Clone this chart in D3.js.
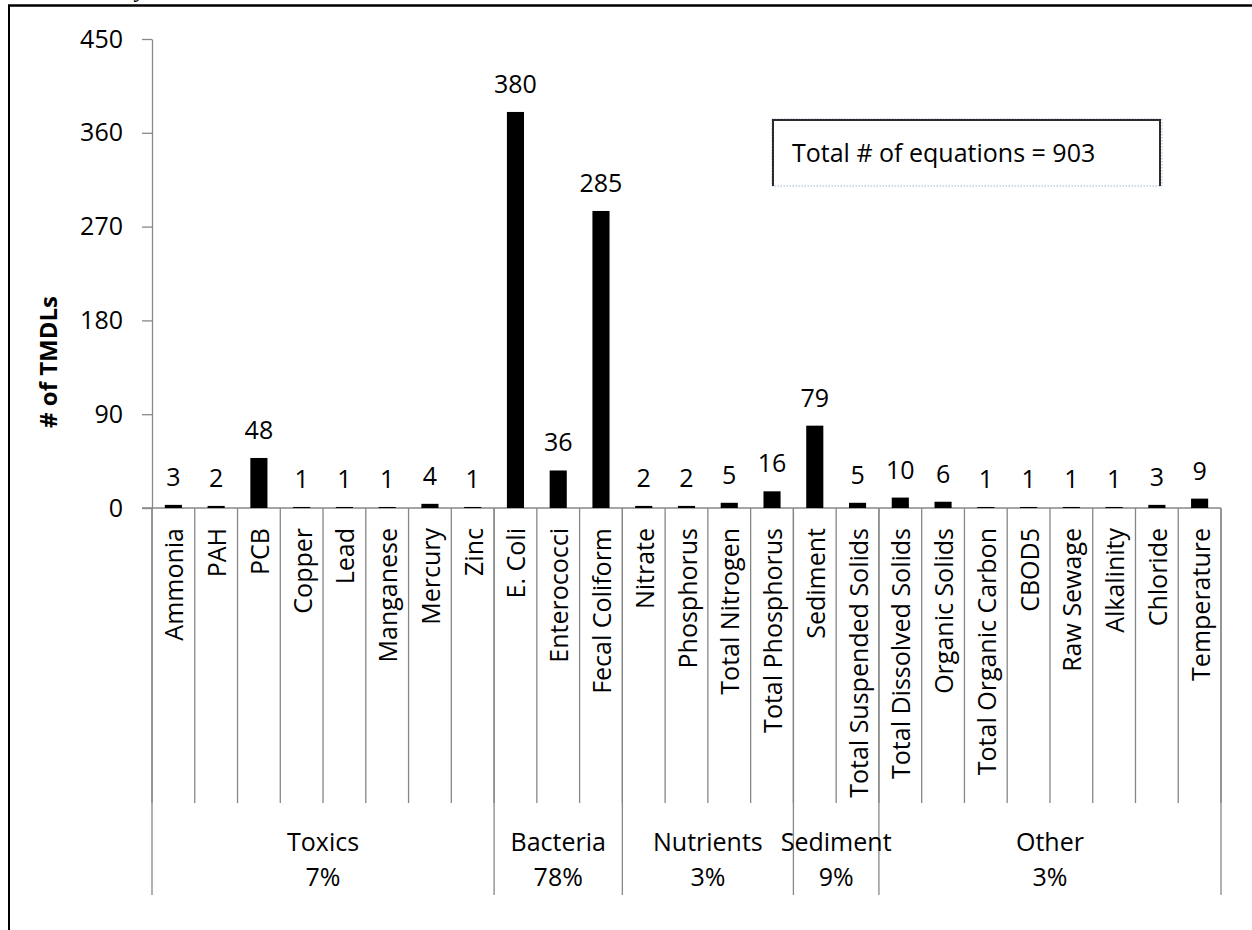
<!DOCTYPE html>
<html>
<head>
<meta charset="utf-8">
<script src="https://cdn.jsdelivr.net/npm/d3@7"></script>
<style>
  html, body { margin: 0; padding: 0; background: #fff; }
  svg { display: block; }
  text { font-family: "Open Sans", "Noto Sans", sans-serif; fill: #000; }
</style>
</head>
<body>
<svg id="chart" width="1252" height="930"></svg>
<script>
// TMDL counts by pollutant
const categories = [
  "Ammonia", "PAH", "PCB", "Copper", "Lead", "Manganese", "Mercury", "Zinc",
  "E. Coli", "Enterococci", "Fecal Coliform",
  "Nitrate", "Phosphorus", "Total Nitrogen", "Total Phosphorus",
  "Sediment", "Total Suspended Solids",
  "Total Dissolved Solids", "Organic Solids", "Total Organic Carbon", "CBOD5",
  "Raw Sewage", "Alkalinity", "Chloride", "Temperature"
];
const values = [3, 2, 48, 1, 1, 1, 4, 1, 380, 36, 285, 2, 2, 5, 16, 79, 5, 10, 6, 1, 1, 1, 1, 3, 9];

// Pollutant groups (in category order) and their share of all equations
const groupNames  = ["Toxics", "Bacteria", "Nutrients", "Sediment", "Other"];
const groupSizes  = [8, 3, 4, 2, 8];
const groupShares = ["7%", "78%", "3%", "9%", "3%"];

const yTicks = [0, 90, 180, 270, 360, 450];
const totalNote = "Total # of equations = 903";

const svg = d3.select("#chart");
const axisColor = "#878787";

const plot = { left: 152, right: 1221, top: 39, bottom: 508 };
const catLineEnd = 803;
const groupLineEnd = 895;

const x = d3.scaleBand()
  .domain(categories)
  .range([plot.left, plot.right])
  .padding(0);

const y = d3.scaleLinear()
  .domain([0, 450])
  .range([plot.bottom, plot.top]);

// Outer frame (left and top edges)
svg.append("line")
  .attr("x1", 9).attr("x2", 9).attr("y1", 5).attr("y2", 930)
  .attr("stroke", "#000").attr("stroke-width", 2);
svg.append("line")
  .attr("x1", 8).attr("x2", 1252).attr("y1", 5.5).attr("y2", 5.5)
  .attr("stroke", "#000").attr("stroke-width", 2.5);
// caption text above the frame, clipped by the page edge
svg.append("text")
  .attr("x", 136).attr("y", -3)
  .style("font-family", "'Liberation Serif', serif")
  .style("font-weight", "bold").style("font-style", "italic")
  .style("font-size", "22px")
  .text("y");

// Y axis
const yAxis = d3.axisLeft(y).tickValues(yTicks).tickSize(10).tickPadding(19).tickSizeOuter(0);
const gy = svg.append("g")
  .attr("transform", `translate(${plot.left},0)`)
  .call(yAxis);
gy.select(".domain").attr("stroke", axisColor).attr("stroke-width", 1.3);
gy.selectAll(".tick line").attr("stroke", axisColor).attr("stroke-width", 1.3);
gy.selectAll(".tick text")
  .style("font-family", "'Open Sans', sans-serif")
  .style("font-size", "25px").attr("fill", "#000");

// Y axis title
svg.append("text")
  .attr("transform", "translate(47,362) rotate(-90)")
  .attr("text-anchor", "middle")
  .attr("dominant-baseline", "central")
  .style("font-weight", "bold")
  .style("font-size", "24px")
  .text("# of TMDLs");

// Baseline
svg.append("line")
  .attr("x1", plot.left - 10).attr("x2", plot.right)
  .attr("y1", plot.bottom).attr("y2", plot.bottom)
  .attr("stroke", axisColor).attr("stroke-width", 1.3);

// Category separators
const bounds = categories.map(c => x(c)).concat([plot.right]);
svg.append("g").selectAll("line")
  .data(bounds)
  .join("line")
  .attr("x1", d => d).attr("x2", d => d)
  .attr("y1", plot.bottom).attr("y2", catLineEnd)
  .attr("stroke", axisColor).attr("stroke-width", 1.3);

// Group separators and labels
let start = 0;
const groups = groupNames.map((name, i) => {
  const g = { name, share: groupShares[i], first: start, last: start + groupSizes[i] - 1 };
  start += groupSizes[i];
  return g;
});
const groupBounds = [plot.left].concat(groups.map(g => x(categories[g.last]) + x.bandwidth()));
svg.append("g").selectAll("line")
  .data(groupBounds)
  .join("line")
  .attr("x1", d => d).attr("x2", d => d)
  .attr("y1", plot.bottom).attr("y2", groupLineEnd)
  .attr("stroke", axisColor).attr("stroke-width", 1.3);

const gl = svg.append("g").selectAll("g")
  .data(groups)
  .join("g")
  .attr("transform", g => {
    const cx = (x(categories[g.first]) + x(categories[g.last]) + x.bandwidth()) / 2;
    return `translate(${cx},0)`;
  });
gl.append("text").attr("y", 851).attr("text-anchor", "middle")
  .style("font-size", "25px").text(g => g.name);
gl.append("text").attr("y", 886).attr("text-anchor", "middle")
  .style("font-size", "25px").text(g => g.share);

// Category labels (rotated)
svg.append("g").selectAll("text")
  .data(categories)
  .join("text")
  .attr("transform", c => `translate(${x(c) + x.bandwidth() / 2},528) rotate(-90)`)
  .attr("text-anchor", "end")
  .attr("dominant-baseline", "central")
  .style("font-size", "25px")
  .text(c => c);

// Bars
const barW = x.bandwidth() * 0.4;
const data = categories.map((c, i) => ({ c, v: values[i] }));
svg.append("g").selectAll("rect")
  .data(data)
  .join("rect")
  .attr("x", d => x(d.c) + (x.bandwidth() - barW) / 2)
  .attr("width", barW)
  .attr("y", d => y(d.v))
  .attr("height", d => y(0) - y(d.v))
  .attr("fill", "#000");

// Value labels
svg.append("g").selectAll("text")
  .data(data)
  .join("text")
  .attr("x", d => x(d.c) + x.bandwidth() / 2)
  .attr("y", d => y(d.v) - 19)
  .attr("text-anchor", "middle")
  .style("font-size", "25px")
  .text(d => d.v);

// Note box
const note = svg.append("g");
note.append("rect")
  .attr("x", 772).attr("y", 119).attr("width", 390).attr("height", 67)
  .attr("fill", "#fff").attr("stroke", "#9db3d6").attr("stroke-width", 1)
  .attr("stroke-dasharray", "1.5,1.5");
note.append("path")
  .attr("d", "M773,186 L773,120 L1160,120 L1160,186")
  .attr("fill", "none").attr("stroke", "#2b2b2b").attr("stroke-width", 2);
note.append("text")
  .attr("x", 792).attr("y", 162)
  .style("font-size", "25px").attr("fill", "#222")
  .text(totalNote);
</script>
</body>
</html>
